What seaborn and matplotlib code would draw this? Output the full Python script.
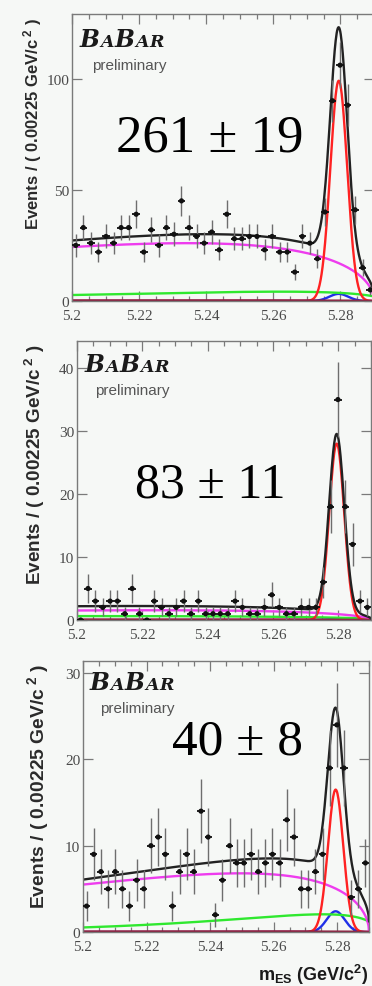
import numpy as np
import pandas as pd
import matplotlib
matplotlib.use("Agg")
import matplotlib.pyplot as plt
from matplotlib.ticker import MultipleLocator
import seaborn as sns

# ---------------- data ----------------
W, H, DPI = 372, 987, 100
x_lo, x_hi, n_bins = 5.2, 5.29, 40
bin_width = 0.00225

counts_1 = [25, 33, 26, 22, 29, 26, 33, 33, 39, 22, 32, 25, 33, 30, 45, 33, 29, 26, 31, 23,
            39, 28, 28, 29, 29, 23, 29, 22, 22, 13, 29, 26, 19, 40, 90, 106, 88, 41, 15, 5]
counts_2 = [0, 5, 3, 2, 3, 3, 1, 5, 1, 0, 3, 2, 1, 2, 3, 1, 3, 1, 1, 1,
            1, 3, 2, 1, 1, 2, 4, 2, 1, 1, 2, 2, 2, 6, 18, 35, 18, 12, 3, 2]
counts_3 = [3, 9, 7, 5, 7, 5, 3, 6, 5, 10, 11, 9, 3, 7, 9, 7, 14, 11, 2, 6,
            10, 8, 8, 9, 7, 8, 9, 8, 13, 11, 5, 5, 7, 9, 19, 24, 19, 4, 5, 8]

yields = ["261 \u00b1 19", "83 \u00b1 11", "40 \u00b1 8"]
y_max = [129, 44.3, 31.4]
y_major = [50, 10, 10]
x_ticks = [5.2, 5.22, 5.24, 5.26, 5.28]
x_ticklabels = ["5.2", "5.22", "5.24", "5.26", "5.28"]

# fit components (parameters)
sig_mean = [5.2795, 5.2795, 5.2795]
sig_sigma = [0.0025, 0.0023, 0.0024]
sig_height = [99.0, 28.0, 16.5]
peak_sigma = [0.0028, 0.0028, 0.0028]
peak_height = [3.2, 0.2, 2.4]
comb_height = [26.0, 1.55, 6.8]
comb_c = [-24.0, -20.0, -33.0]
comb_m0 = [5.29, 5.29, 5.29]
bb_height = [4.2, 0.62, 2.05]
bb_c = [-42.8, -15.0, -78.0]
bb_m0 = [5.293, 5.293, 5.2925]
flat_height = [0.25, 0.06, 0.06]

# layout in pixels: left, right, top, bottom
boxes = [(72, 374, 15, 302), (77, 371, 342, 621), (83, 369, 662, 933)]
ylabel_x = [33, 35, 38]
ylabel_top = [18, 345, 664]
ylabel_size = [12.0, 13.6, 13.9]
yield_pos = [(210, 138), (210, 485), (238, 742)]
yield_size = [38, 36, 37]
logo_pos = [(80, 47, 92, 66), (85, 372, 95, 391), (90, 690, 100, 709)]

# ---------------- style ----------------
sns.set_theme(style="ticks")
plt.rcParams["font.family"] = ["Liberation Sans", "DejaVu Sans"]
plt.rcParams["mathtext.fontset"] = "custom"
plt.rcParams["mathtext.rm"] = "Liberation Sans"
plt.rcParams["mathtext.bf"] = "Liberation Sans:bold"
plt.rcParams["mathtext.it"] = "Liberation Sans:italic"

BG = "#f6f8f6"
SPINE = "#7a7a7a"
TICKC = "#4a4a4a"
colors = {"maroon": "#8c1c3c", "green": "#2fe82f", "magenta": "#ee3cee",
          "red": "#ff2222", "blue": "#2030e8", "total": "#222222"}
draw_order = ["blue", "green", "magenta", "red", "maroon", "total"]


def argus_shape(m, m0, c):
    u = np.clip(1 - (m / m0) ** 2, 0, None)
    um = -1.0 / (2 * c)
    return np.sqrt(u / um) * np.exp(c * (u - um))


def gauss(m, mu, s):
    return np.exp(-0.5 * ((m - mu) / s) ** 2)


fig = plt.figure(figsize=(W / DPI, H / DPI), dpi=DPI, facecolor=BG)
renderer = fig.canvas.get_renderer()

m = np.linspace(x_lo, x_hi, 600)
centers = x_lo + bin_width * (np.arange(n_bins) + 0.5)
all_counts = [counts_1, counts_2, counts_3]

for i in range(3):
    l, r, t, b = boxes[i]
    ax = fig.add_axes([l / W, 1 - b / H, (r - l) / W, (b - t) / H])
    ax.set_facecolor(BG)

    comps = {
        "maroon": flat_height[i] * argus_shape(m, comb_m0[i], comb_c[i]),
        "green": bb_height[i] * argus_shape(m, bb_m0[i], bb_c[i]),
        "magenta": comb_height[i] * argus_shape(m, comb_m0[i], comb_c[i]),
        "red": sig_height[i] * gauss(m, sig_mean[i], sig_sigma[i]),
        "blue": peak_height[i] * gauss(m, sig_mean[i], peak_sigma[i]),
    }
    comps["total"] = (comps["maroon"] + comps["green"] + comps["magenta"]
                      + comps["red"] + comps["blue"])
    df = pd.concat([pd.DataFrame({"m": m, "y": comps[k], "comp": k}) for k in draw_order],
                   ignore_index=True)
    sns.lineplot(data=df, x="m", y="y", hue="comp", hue_order=draw_order,
                 palette=colors, linewidth=1.7, legend=False, ax=ax, sort=False,
                 estimator=None)

    cnt = np.array(all_counts[i], dtype=float)
    err = np.sqrt(cnt)
    ax.errorbar(centers, cnt, yerr=err, fmt="none", ecolor="#6e6e6e", elinewidth=1.0,
                zorder=4)
    ax.errorbar(centers, cnt, xerr=bin_width / 2, fmt="none", ecolor="#111111",
                elinewidth=1.3, zorder=5)
    sns.scatterplot(x=centers, y=cnt, color="#111111", s=14, marker="o",
                    edgecolor="none", ax=ax, zorder=6)

    ax.set_xlim(x_lo, x_hi)
    ax.set_ylim(0, y_max[i])
    ax.set_xticks(x_ticks)
    ax.set_xticklabels(x_ticklabels)
    ax.xaxis.set_minor_locator(MultipleLocator(0.005))
    ax.yaxis.set_major_locator(MultipleLocator(y_major[i]))
    ax.tick_params(axis="both", which="major", direction="in", top=True, right=True,
                   length=7, width=0.9, color=SPINE, labelcolor=TICKC, labelsize=11)
    ax.tick_params(axis="x", which="minor", direction="in", top=True, bottom=True,
                   length=3.5, width=0.9, color=SPINE)
    ax.tick_params(axis="x", which="major", pad=6)
    ax.tick_params(axis="y", which="major", pad=2)
    for lab in ax.get_xticklabels() + ax.get_yticklabels():
        lab.set_family("Liberation Serif")
    for sp in ax.spines.values():
        sp.set_visible(True)
        sp.set_color(SPINE)
        sp.set_linewidth(1.0)

    ax.set_xlabel("")
    ax.set_ylabel(r"Events / ( 0.00225 GeV/c$^{\mathbf{\ 2}}$ )", fontsize=ylabel_size[i],
                  fontweight="bold", color="#2a2a2a", ha="right", va="center",
                  rotation_mode="anchor")
    ax.yaxis.set_label_coords(ylabel_x[i] / W, 1 - ylabel_top[i] / H,
                              transform=fig.transFigure)

    # yield annotation
    yx, yy = yield_pos[i]
    fig.text(yx / W, 1 - yy / H, yields[i], fontsize=yield_size[i],
             family="Liberation Serif", color="black", ha="center", va="center")

    # BaBar logo
    lx, ly, px, py = logo_pos[i]
    xcur = lx
    for ch, sz in [("B", 17), ("A", 12.5), ("B", 17), ("A", 12.5), ("R", 12.5)]:
        tt = fig.text(xcur / W, 1 - ly / H, ch, fontsize=sz, family="DejaVu Serif",
                      weight="bold", style="italic", color="#1a1a1a",
                      ha="left", va="baseline")
        bb = tt.get_window_extent(renderer)
        xcur = bb.x1 + 0.5
    fig.text(px / W, 1 - py / H, "preliminary", fontsize=11, color="#555555",
             ha="left", va="center")

    if i == 2:
        ax.set_xlabel(r"$\mathbf{m_{ES}}$ (GeV/c$^{\mathbf{2}}$)", fontsize=13,
                      fontweight="bold", color="#1a1a1a", ha="right", va="center")
        ax.xaxis.set_label_coords(368 / W, 1 - 975 / H, transform=fig.transFigure)

fig.savefig("out.png", dpi=DPI, facecolor=BG)
